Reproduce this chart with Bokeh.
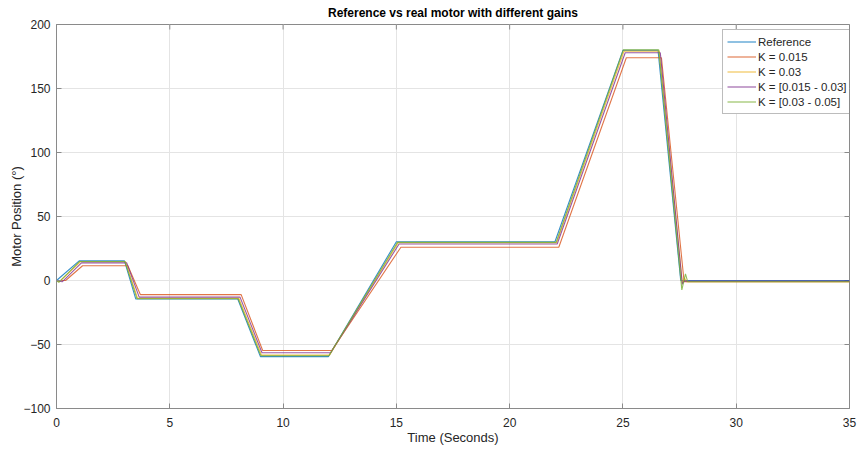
import math
from bokeh.plotting import figure
from bokeh.models import Range1d, Legend, LegendItem, FixedTicker
from bokeh.embed import file_html
from bokeh.resources import INLINE

# Reference trajectory (degrees vs seconds)
t_ref = [0, 1.0, 3.0, 3.5, 8.0, 9.0, 12.0, 15.0, 22.0, 25.0, 26.55, 27.55, 35]
y_ref = [0, 15.3, 15.3, -14.5, -14.5, -59.5, -59.5, 30.3, 30.3, 179.8, 179.8, 0, 0]

# Motor response, K = 0.015
t_k1 = [0, 0.4, 1.15, 3.15, 3.7, 8.15, 9.1, 12.15, 15.2, 22.17, 25.15, 26.7, 27.7, 35]
y_k1 = [0, 0, 11.5, 11.5, -11.0, -11.0, -54.7, -54.7, 26.0, 26.0, 174.0, 174.0, -1, -1]

# Motor response, K = 0.03
t_k2 = [0, 0.12, 1.05, 3.05, 3.58, 8.05, 9.05, 12.05, 15.08, 22.07, 25.05, 26.6, 27.62, 27.72, 27.8, 35]
y_k2 = [0, -1, 14.6, 14.6, -14.0, -14.0, -58.3, -58.3, 29.5, 29.5, 179.2, 179.2, -2, 2, -1, -1]

# Motor response, K = [0.015 - 0.03]
t_k3 = [0, 0.25, 1.1, 3.1, 3.65, 8.1, 9.07, 12.1, 15.12, 22.1, 25.1, 26.65, 27.62, 27.7, 35]
y_k3 = [0, -1, 13.8, 13.8, -13.0, -13.0, -56.5, -56.5, 28.5, 28.5, 177.9, 177.9, -3, -0.5, -0.5]

# Motor response, K = [0.03 - 0.05]
t_k4 = [0, 0.1, 1.02, 3.02, 3.55, 8.02, 9.02, 12.02, 15.05, 22.05, 25.02, 26.58, 27.6, 27.76, 27.86, 35]
y_k4 = [0, -1.5, 14.9, 14.9, -14.2, -14.2, -58.8, -58.8, 29.8, 29.8, 180.3, 180.3, -7.3, 5.2, -1, -1]

labels = ["Reference", "K = 0.015", "K = 0.03", "K = [0.015 - 0.03]", "K = [0.03 - 0.05]"]
colors = ["#0072BD", "#D95319", "#EDB120", "#7E2F8E", "#77AC30"]
x_ticks = [0, 5, 10, 15, 20, 25, 30, 35]
y_ticks = [-100, -50, 0, 50, 100, 150, 200]
x_lim = (0, 35)
y_lim = (-100, 200)

FONT = "Liberation Sans"
AXIS_COLOR = "#8a8a8a"
TEXT_COLOR = "#262626"

p = figure(width=860, height=450,
           x_range=Range1d(*x_lim), y_range=Range1d(*y_lim),
           output_backend="svg", toolbar_location=None,
           min_border_left=56, min_border_right=11, min_border_top=24, min_border_bottom=42,
           title="Reference vs real motor with different gains")

p.title.align = "center"
p.title.vertical_align = "middle"
p.title.text_font = FONT
p.title.text_font_size = "12px"
p.title.text_font_style = "bold"
p.title.text_color = "#000000"
p.title.standoff = 7

p.outline_line_color = AXIS_COLOR
p.outline_line_width = 1
p.background_fill_color = "white"
p.border_fill_color = "white"

for ax in (p.xaxis[0], p.yaxis[0]):
    ax.axis_line_color = AXIS_COLOR
    ax.major_tick_line_color = AXIS_COLOR
    ax.major_tick_in = 5
    ax.major_tick_out = 0
    ax.minor_tick_line_color = None
    ax.major_label_text_font = FONT
    ax.major_label_text_font_size = "12px"
    ax.major_label_text_color = TEXT_COLOR
    ax.axis_label_text_font = FONT
    ax.axis_label_text_font_size = "13px"
    ax.axis_label_text_font_style = "normal"
    ax.axis_label_text_color = TEXT_COLOR

p.xaxis[0].ticker = FixedTicker(ticks=x_ticks)
p.yaxis[0].ticker = FixedTicker(ticks=y_ticks)
p.xaxis[0].axis_label = "Time (Seconds)"
p.yaxis[0].axis_label = "Motor Position (°)"
p.xaxis[0].major_label_standoff = 9
p.xaxis[0].axis_label_standoff = 0
p.yaxis[0].major_label_standoff = 6
p.yaxis[0].axis_label_standoff = -4

p.xgrid.ticker = FixedTicker(ticks=x_ticks)
p.ygrid.ticker = FixedTicker(ticks=y_ticks)
p.xgrid.grid_line_color = "#e4e4e4"
p.ygrid.grid_line_color = "#e4e4e4"

# inward tick marks along the top and right edges of the box (half clipped by the frame)
p.scatter(x_ticks, [y_lim[1]] * len(x_ticks), marker="dash", size=10, angle=math.pi / 2,
          line_color=AXIS_COLOR, line_width=1)
p.scatter([x_lim[1]] * len(y_ticks), y_ticks, marker="dash", size=10,
          line_color=AXIS_COLOR, line_width=1)

series = [(t_ref, y_ref), (t_k1, y_k1), (t_k2, y_k2), (t_k3, y_k3), (t_k4, y_k4)]
renderers = []
for (tx, ty), c in zip(series, colors):
    renderers.append(p.line(tx, ty, line_color=c, line_width=1.1, line_alpha=0.8))

legend = Legend(items=[LegendItem(label=l, renderers=[r]) for l, r in zip(labels, renderers)],
                location=(666, 294))
legend.margin = 0
legend.padding = 4
legend.spacing = 0
legend.label_height = 15
legend.glyph_height = 15
legend.glyph_width = 29
legend.label_standoff = 2
legend.label_text_font = FONT
legend.label_text_font_size = "11.5px"
legend.label_text_color = TEXT_COLOR
legend.border_line_color = "#7a7a7a"
legend.border_line_width = 1
legend.background_fill_color = "white"
legend.background_fill_alpha = 1
p.add_layout(legend)

open("out.html", "w").write(file_html(p, INLINE))
